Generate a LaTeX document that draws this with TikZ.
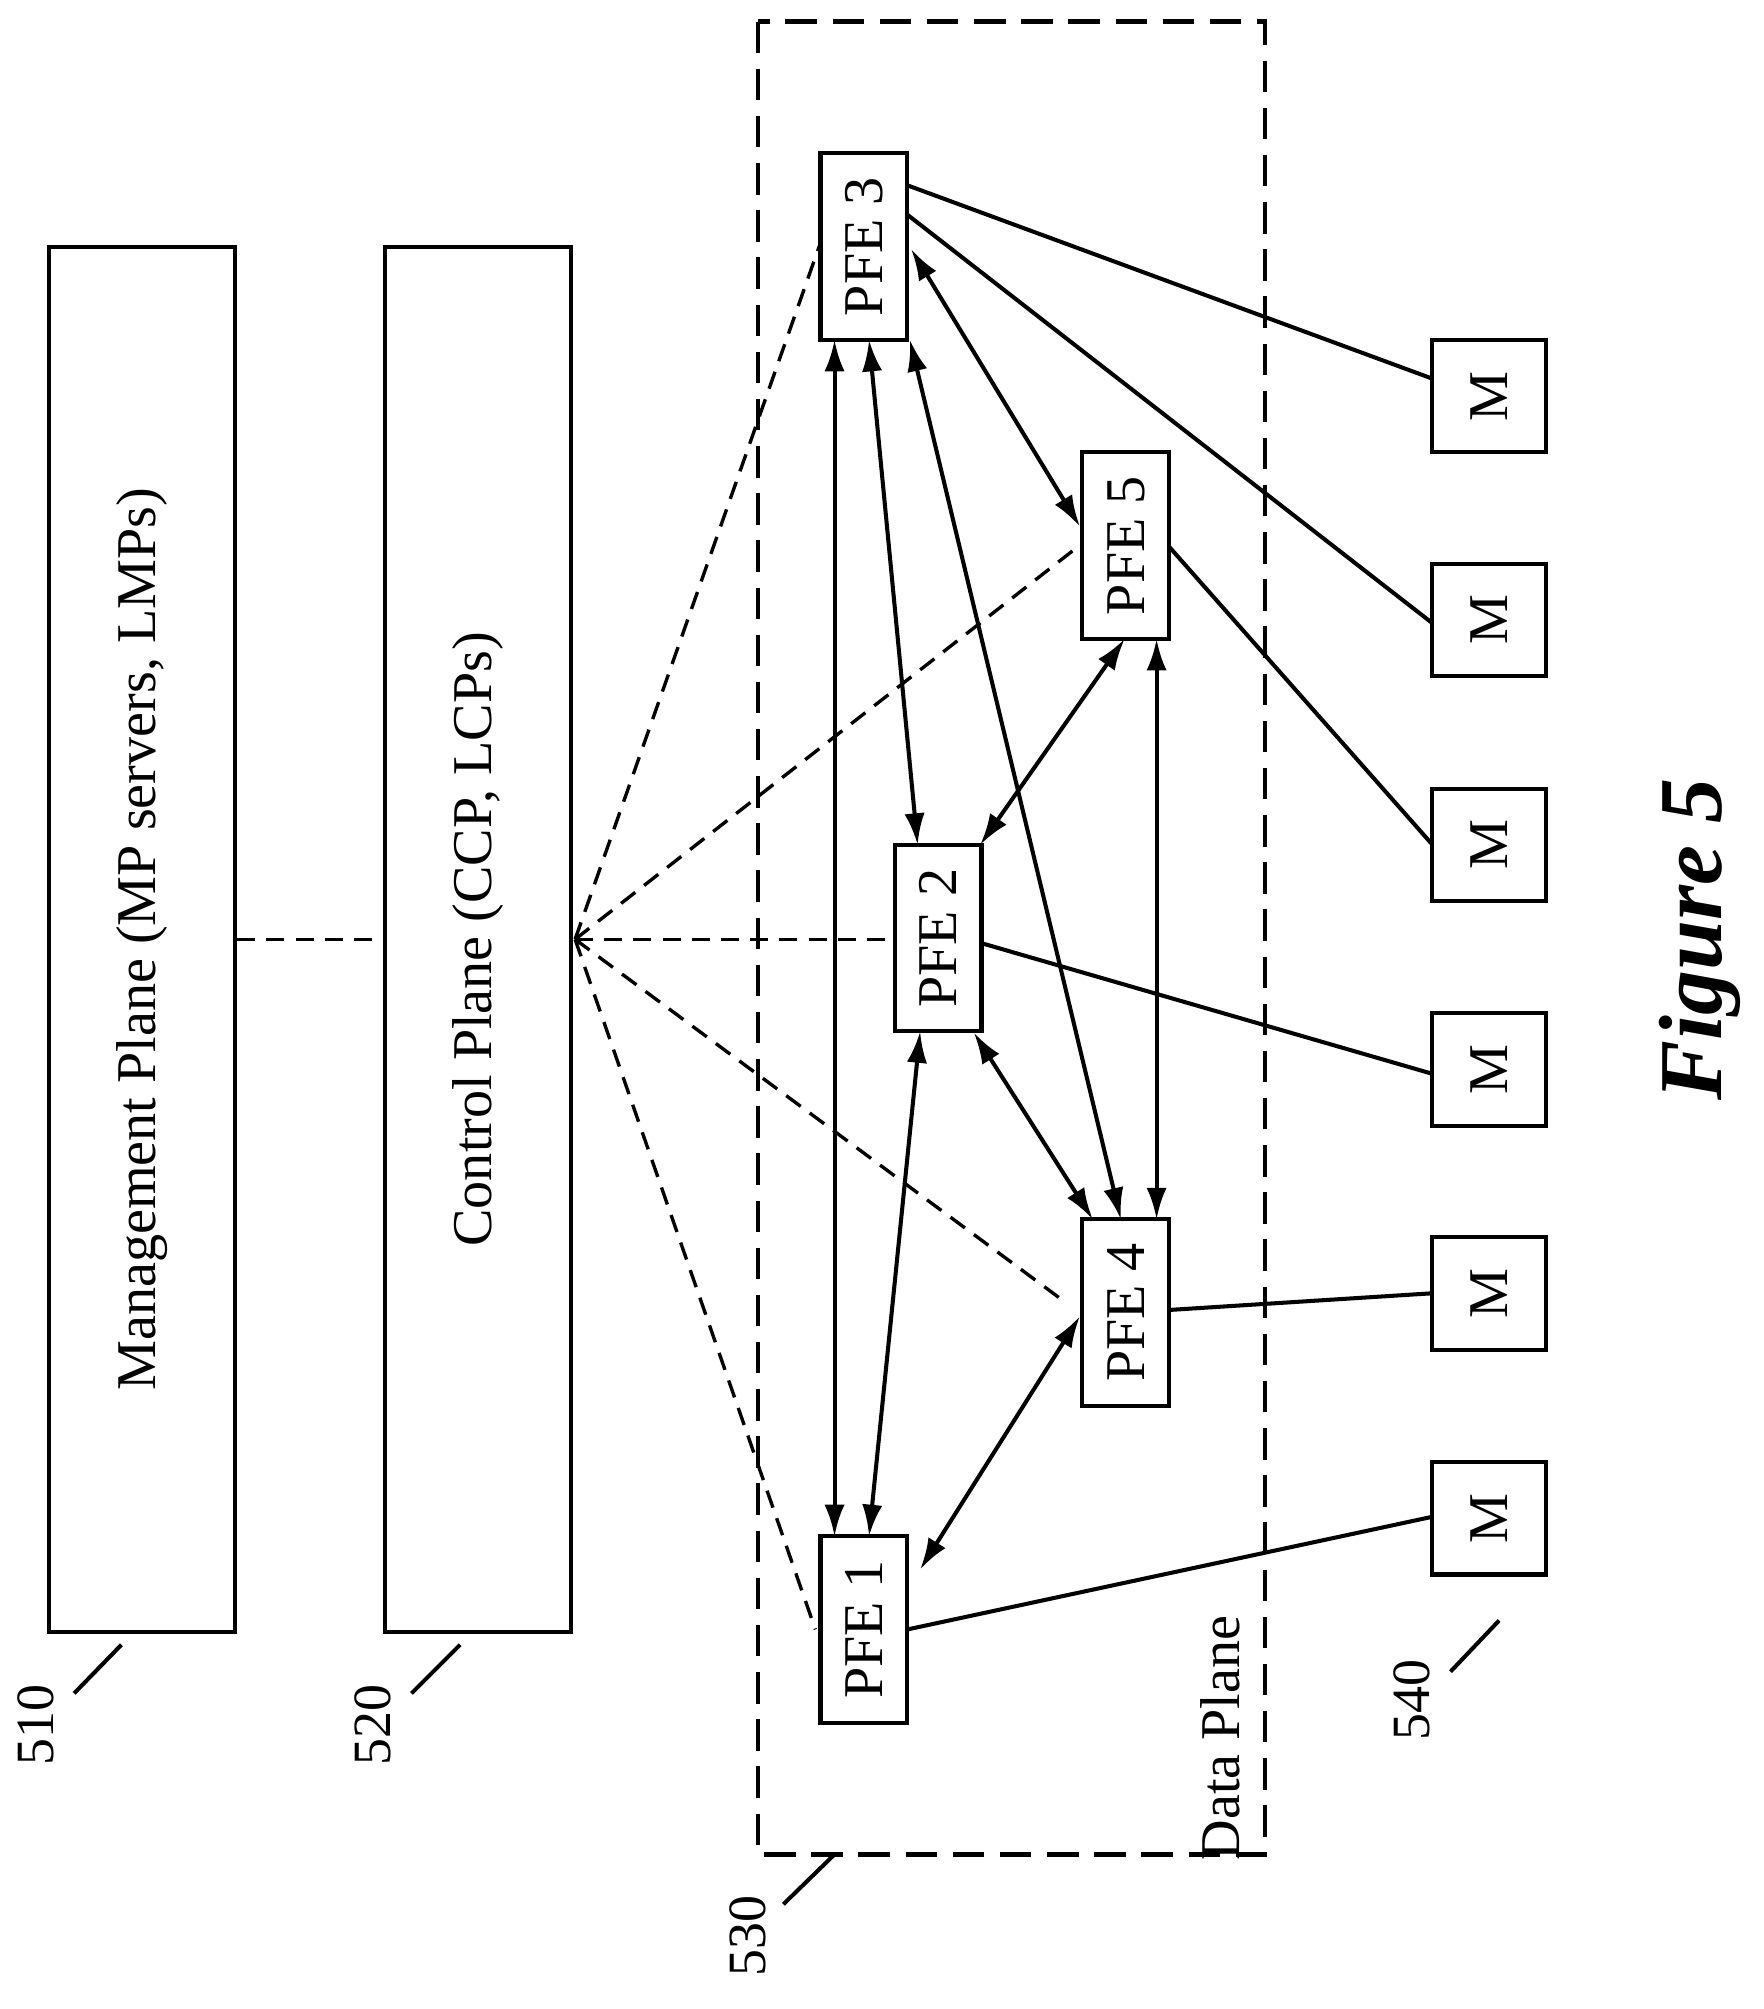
\documentclass[tikz,border=0pt]{standalone}
\usepackage{fontspec}
\setmainfont{Liberation Serif}
\usetikzlibrary{arrows.meta,calc}
\begin{document}
\begin{tikzpicture}[x=0.02cm,y=-0.02cm,
  box/.style={draw,line width=1.8pt,inner sep=0,fill=white},
  lbl/.style={font=\fontsize{25}{30}\selectfont,rotate=90},
  dsh/.style={line width=1.5pt,dash pattern=on 8pt off 5pt},
  bi/.style={{Latex[length=14pt,width=9pt]}-{Latex[length=14pt,width=9pt]},line width=1.8pt},
  sl/.style={line width=1.8pt}]
\useasboundingbox (0,0) rectangle (1380,1572);
% data plane
\draw[line width=2pt,dash pattern=on 14pt off 7pt] (593,17) rectangle (990,1451);
\node[lbl] (dp) at (955,1360) {Data Plane};
% MP / CP
\node[box,minimum width=146*0.02cm,minimum height=1084*0.02cm] (mp) at (111,735) {};
\node[lbl] at (mp) {Management Plane (MP servers, LMPs)};
\node[box,minimum width=146*0.02cm,minimum height=1084*0.02cm] (cp) at (374,735) {};
\node[lbl] at (cp) {Control Plane (CCP, LCPs)};
\draw[dsh] (mp.east) -- (cp.west);
\coordinate (c) at (450,735);
% PFEs (rotated: width is along the text = vertical)
\foreach \n/\x/\y/\t in {p3/676/193/PFE 3,p5/881/427/PFE 5,p2/734/734/PFE 2,p4/881/1027/PFE 4,p1/676/1275/PFE 1}{
  \node[box,minimum width=146*0.02cm,minimum height=68*0.02cm,lbl] (\n) at (\x,\y) {\t};}
% M
\foreach \i/\y in {1/310,2/485,3/661,4/837,5/1012,6/1188}{
  \node[box,minimum width=88*0.02cm,minimum height=89*0.02cm,lbl] (m\i) at (1165,\y) {M};}
% dashed control links
\draw[dsh] (c) -- (642,190);
\draw[dsh] (c) -- (847,425);
\draw[dsh] (c) -- (701,735);
\draw[dsh] (c) -- (835,1020);
\draw[dsh] (c) -- (638,1275);
% arrows
\draw[bi] (653,266) -- (653,1202);
\draw[bi] (680,266) -- (718,661);
\draw[bi] (712,266) -- (877,954);
\draw[bi] (713,195) -- (845,412);
\draw[bi] (680,1202) -- (720,807);
\draw[bi] (720,1228) -- (845,1030);
\draw[bi] (767,661) -- (880,500);
\draw[bi] (762,808) -- (855,954);
\draw[bi] (905,500) -- (905,954);
% solid to M
\draw[sl] (710,145) -- (1120,296);
\draw[sl] (710,168) -- (1120,487);
\draw[sl] (915,428) -- (1120,660);
\draw[sl] (768,738) -- (1120,840);
\draw[sl] (915,1025) -- (1120,1012);
\draw[sl] (710,1275) -- (1120,1187);
% labels
\node[lbl,font=\fontsize{24}{28}\selectfont] at (28,1350) {510};
\draw[sl] (58,1325) -- (95,1287);
\node[lbl,font=\fontsize{24}{28}\selectfont] at (292,1350) {520};
\draw[sl] (322,1325) -- (360,1287);
\node[lbl,font=\fontsize{24}{28}\selectfont] at (585,1515) {530};
\draw[sl] (613,1490) -- (652,1452);
\node[lbl,font=\fontsize{24}{28}\selectfont] at (1105,1330) {540};
\draw[sl] (1135,1308) -- (1173,1268);
\node[rotate=90,font=\fontsize{40}{44}\selectfont\bfseries\itshape] at (1330,735) {Figure 5};
\end{tikzpicture}
\end{document}
